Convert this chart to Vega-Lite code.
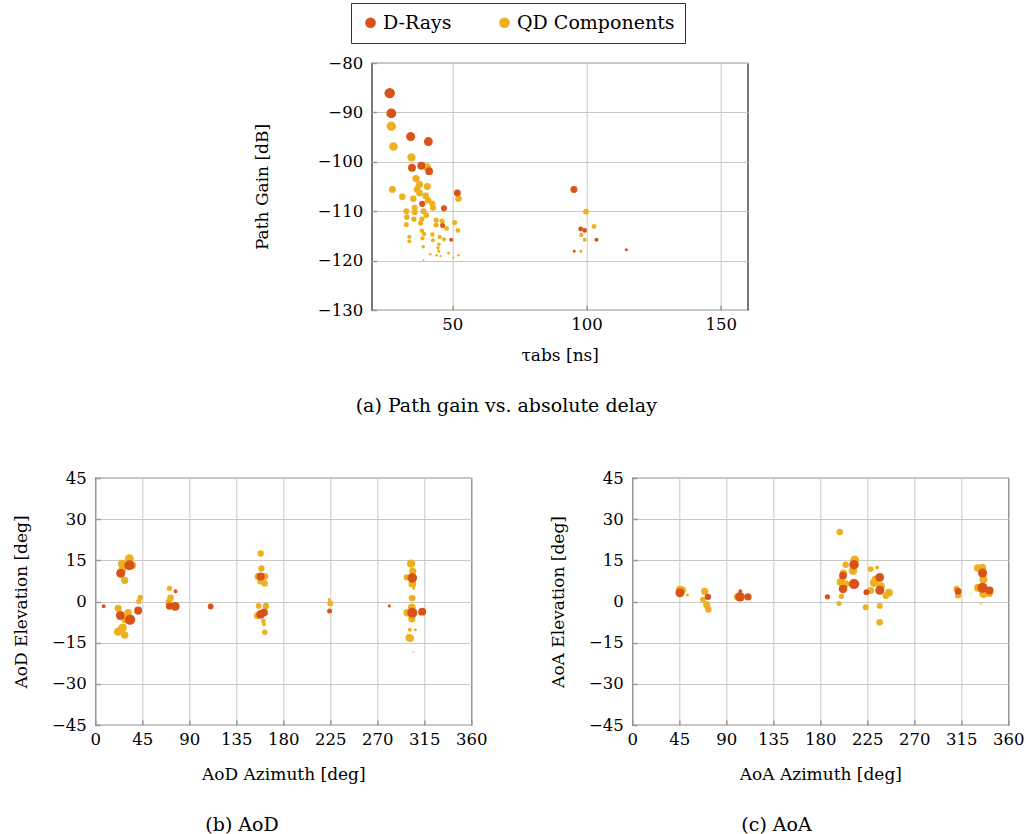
{
  "$schema": "https://vega.github.io/schema/vega-lite/v6.json",
  "background": "white",
  "padding": {"left": 11, "top": 2, "right": 2, "bottom": 1},
  "config": {
    "font": "DejaVu Serif",
    "view": {"stroke": "#222", "strokeWidth": 1.2},
    "axis": {
      "grid": true, "gridColor": "#c8c8c8", "gridWidth": 1,
      "domain": false, "tickColor": "#999", "tickSize": -5, "tickWidth": 1.5,
      "labelOverlap": false, "labelFlush": false,
      "labelFont": "DejaVu Serif", "labelFontSize": 16.5, "labelColor": "#000", "labelPadding": 11,
      "titleFont": "DejaVu Serif", "titleFontSize": 17, "titleFontWeight": "normal", "titleColor": "#000"
    },
    "axisX": {"titlePadding": 19},
    "axisY": {"titlePadding": 21, "labelPadding": 14},
    "title": {"font": "DejaVu Serif", "fontSize": 19, "fontWeight": "normal", "color": "#000",
              "anchor": "start", "frame": "group", "orient": "bottom", "offset": 33},
    "legend": {"labelFont": "DejaVu Serif", "labelFontSize": 19, "labelColor": "#000"}
  },
  "datasets": {
    "gain": [
      {"type": "QD Components", "tau": 27.3, "pg": -92.8}, {"type": "QD Components", "tau": 28.1, "pg": -96.9},
      {"type": "QD Components", "tau": 34.8, "pg": -99.1}, {"type": "QD Components", "tau": 40.6, "pg": -101.1},
      {"type": "QD Components", "tau": 36.5, "pg": -103.4}, {"type": "QD Components", "tau": 37.8, "pg": -104.6},
      {"type": "QD Components", "tau": 40.7, "pg": -105.0}, {"type": "QD Components", "tau": 36.9, "pg": -105.6},
      {"type": "QD Components", "tau": 27.7, "pg": -105.6}, {"type": "QD Components", "tau": 31.4, "pg": -107.1},
      {"type": "QD Components", "tau": 35.5, "pg": -107.5}, {"type": "QD Components", "tau": 37.8, "pg": -106.3},
      {"type": "QD Components", "tau": 40.1, "pg": -106.9}, {"type": "QD Components", "tau": 41.0, "pg": -107.8},
      {"type": "QD Components", "tau": 42.6, "pg": -108.5}, {"type": "QD Components", "tau": 42.8, "pg": -109.3},
      {"type": "QD Components", "tau": 36.0, "pg": -109.3}, {"type": "QD Components", "tau": 39.3, "pg": -110.0},
      {"type": "QD Components", "tau": 32.9, "pg": -110.0}, {"type": "QD Components", "tau": 36.0, "pg": -110.2},
      {"type": "QD Components", "tau": 40.3, "pg": -110.8}, {"type": "QD Components", "tau": 33.1, "pg": -111.2},
      {"type": "QD Components", "tau": 35.7, "pg": -111.6}, {"type": "QD Components", "tau": 38.7, "pg": -111.6},
      {"type": "QD Components", "tau": 44.0, "pg": -111.8}, {"type": "QD Components", "tau": 46.2, "pg": -112.0},
      {"type": "QD Components", "tau": 38.2, "pg": -112.4}, {"type": "QD Components", "tau": 32.9, "pg": -112.7},
      {"type": "QD Components", "tau": 44.0, "pg": -112.8}, {"type": "QD Components", "tau": 50.9, "pg": -112.3},
      {"type": "QD Components", "tau": 47.9, "pg": -113.5}, {"type": "QD Components", "tau": 52.1, "pg": -113.9},
      {"type": "QD Components", "tau": 38.7, "pg": -114.0}, {"type": "QD Components", "tau": 39.5, "pg": -114.6},
      {"type": "QD Components", "tau": 42.6, "pg": -114.7}, {"type": "QD Components", "tau": 45.3, "pg": -115.2},
      {"type": "QD Components", "tau": 34.0, "pg": -115.2}, {"type": "QD Components", "tau": 38.9, "pg": -115.5},
      {"type": "QD Components", "tau": 42.8, "pg": -115.9}, {"type": "QD Components", "tau": 46.9, "pg": -115.7},
      {"type": "QD Components", "tau": 34.0, "pg": -116.1}, {"type": "QD Components", "tau": 45.0, "pg": -116.7},
      {"type": "QD Components", "tau": 39.2, "pg": -117.2}, {"type": "QD Components", "tau": 44.7, "pg": -117.4},
      {"type": "QD Components", "tau": 45.0, "pg": -118.1}, {"type": "QD Components", "tau": 41.8, "pg": -118.7},
      {"type": "QD Components", "tau": 44.2, "pg": -118.9}, {"type": "QD Components", "tau": 45.6, "pg": -119.1},
      {"type": "QD Components", "tau": 48.6, "pg": -118.5}, {"type": "QD Components", "tau": 52.3, "pg": -118.9},
      {"type": "QD Components", "tau": 50.4, "pg": -119.4}, {"type": "QD Components", "tau": 39.3, "pg": -119.9},
      {"type": "QD Components", "tau": 52.3, "pg": -107.5}, {"type": "QD Components", "tau": 99.8, "pg": -110.1},
      {"type": "QD Components", "tau": 102.8, "pg": -113.1}, {"type": "QD Components", "tau": 98.0, "pg": -114.8},
      {"type": "QD Components", "tau": 99.3, "pg": -115.8}, {"type": "QD Components", "tau": 97.9, "pg": -118.1},
      {"type": "D-Rays", "tau": 26.7, "pg": -86.1}, {"type": "D-Rays", "tau": 27.3, "pg": -90.2},
      {"type": "D-Rays", "tau": 34.5, "pg": -94.9}, {"type": "D-Rays", "tau": 41.1, "pg": -95.9},
      {"type": "D-Rays", "tau": 35.0, "pg": -101.2}, {"type": "D-Rays", "tau": 38.5, "pg": -100.8},
      {"type": "D-Rays", "tau": 41.4, "pg": -101.9}, {"type": "D-Rays", "tau": 51.9, "pg": -106.3},
      {"type": "D-Rays", "tau": 38.8, "pg": -108.5}, {"type": "D-Rays", "tau": 46.9, "pg": -109.4},
      {"type": "D-Rays", "tau": 46.4, "pg": -112.9}, {"type": "D-Rays", "tau": 49.6, "pg": -115.8},
      {"type": "D-Rays", "tau": 95.3, "pg": -105.6}, {"type": "D-Rays", "tau": 97.8, "pg": -113.6},
      {"type": "D-Rays", "tau": 99.3, "pg": -113.9}, {"type": "D-Rays", "tau": 103.7, "pg": -115.8},
      {"type": "D-Rays", "tau": 95.4, "pg": -118.1}, {"type": "D-Rays", "tau": 114.8, "pg": -117.8}
    ],
    "aod": [
      {"type": "QD Components", "az": 32.6, "el": 15.6, "pg": -95}, {"type": "QD Components", "az": 25.6, "el": 13.7, "pg": -100},
      {"type": "QD Components", "az": 35.2, "el": 13.2, "pg": -100}, {"type": "QD Components", "az": 26.2, "el": 12.0, "pg": -102},
      {"type": "QD Components", "az": 28.1, "el": 7.7, "pg": -104}, {"type": "QD Components", "az": 41.6, "el": 0.0, "pg": -112},
      {"type": "QD Components", "az": 43.0, "el": 1.5, "pg": -112}, {"type": "QD Components", "az": 21.8, "el": -2.5, "pg": -105},
      {"type": "QD Components", "az": 31.4, "el": -4.1, "pg": -104}, {"type": "QD Components", "az": 28.8, "el": -6.5, "pg": -100},
      {"type": "QD Components", "az": 26.2, "el": -9.5, "pg": -100}, {"type": "QD Components", "az": 21.8, "el": -11.0, "pg": -100},
      {"type": "QD Components", "az": 28.1, "el": -12.2, "pg": -103}, {"type": "QD Components", "az": 41.0, "el": -3.5, "pg": -105},
      {"type": "QD Components", "az": 24.0, "el": -10.5, "pg": -103},
      {"type": "QD Components", "az": 71.0, "el": 4.8, "pg": -112}, {"type": "QD Components", "az": 72.0, "el": 1.3, "pg": -107},
      {"type": "QD Components", "az": 70.3, "el": -0.3, "pg": -107},
      {"type": "QD Components", "az": 158.3, "el": 17.5, "pg": -108}, {"type": "QD Components", "az": 159.0, "el": 12.0, "pg": -108},
      {"type": "QD Components", "az": 155.8, "el": 9.1, "pg": -105}, {"type": "QD Components", "az": 162.2, "el": 9.1, "pg": -105},
      {"type": "QD Components", "az": 158.3, "el": 7.4, "pg": -106}, {"type": "QD Components", "az": 162.2, "el": 6.6, "pg": -108},
      {"type": "QD Components", "az": 156.4, "el": -1.6, "pg": -110}, {"type": "QD Components", "az": 163.4, "el": -1.6, "pg": -108},
      {"type": "QD Components", "az": 155.2, "el": -5.2, "pg": -105}, {"type": "QD Components", "az": 160.9, "el": -7.1, "pg": -114},
      {"type": "QD Components", "az": 161.5, "el": -8.3, "pg": -116}, {"type": "QD Components", "az": 162.2, "el": -11.2, "pg": -112},
      {"type": "QD Components", "az": 223.9, "el": 0.7, "pg": -118}, {"type": "QD Components", "az": 224.9, "el": -0.7, "pg": -110},
      {"type": "QD Components", "az": 302.3, "el": 13.8, "pg": -100}, {"type": "QD Components", "az": 303.9, "el": 11.0, "pg": -104},
      {"type": "QD Components", "az": 298.2, "el": 8.8, "pg": -108}, {"type": "QD Components", "az": 303.5, "el": 6.5, "pg": -102},
      {"type": "QD Components", "az": 304.9, "el": 4.8, "pg": -118}, {"type": "QD Components", "az": 303.3, "el": 1.2, "pg": -107},
      {"type": "QD Components", "az": 303.0, "el": -2.1, "pg": -103}, {"type": "QD Components", "az": 298.5, "el": -4.1, "pg": -104},
      {"type": "QD Components", "az": 303.0, "el": -6.3, "pg": -104}, {"type": "QD Components", "az": 301.1, "el": -10.3, "pg": -116},
      {"type": "QD Components", "az": 306.4, "el": -10.3, "pg": -118}, {"type": "QD Components", "az": 300.4, "el": -13.2, "pg": -104},
      {"type": "QD Components", "az": 301.6, "el": -13.4, "pg": -104}, {"type": "QD Components", "az": 304.5, "el": -18.4, "pg": -120},
      {"type": "D-Rays", "az": 32.6, "el": 13.2, "pg": -88}, {"type": "D-Rays", "az": 24.3, "el": 10.3, "pg": -95},
      {"type": "D-Rays", "az": 8.0, "el": -1.7, "pg": -116}, {"type": "D-Rays", "az": 41.0, "el": -3.3, "pg": -101},
      {"type": "D-Rays", "az": 24.0, "el": -5.1, "pg": -95}, {"type": "D-Rays", "az": 33.3, "el": -6.6, "pg": -87},
      {"type": "D-Rays", "az": 76.8, "el": 3.7, "pg": -116}, {"type": "D-Rays", "az": 71.0, "el": -1.7, "pg": -105},
      {"type": "D-Rays", "az": 76.5, "el": -1.8, "pg": -96}, {"type": "D-Rays", "az": 110.4, "el": -1.8, "pg": -110},
      {"type": "D-Rays", "az": 158.3, "el": 9.1, "pg": -100}, {"type": "D-Rays", "az": 161.5, "el": -4.0, "pg": -102},
      {"type": "D-Rays", "az": 158.3, "el": -4.7, "pg": -97}, {"type": "D-Rays", "az": 224.3, "el": -3.5, "pg": -113},
      {"type": "D-Rays", "az": 281.5, "el": -1.6, "pg": -118}, {"type": "D-Rays", "az": 303.5, "el": 8.6, "pg": -92},
      {"type": "D-Rays", "az": 303.5, "el": -4.1, "pg": -88}, {"type": "D-Rays", "az": 312.9, "el": -3.7, "pg": -101}
    ],
    "aoa": [
      {"type": "QD Components", "az": 45.6, "el": 4.3, "pg": -100}, {"type": "QD Components", "az": 47.9, "el": 4.1, "pg": -104},
      {"type": "QD Components", "az": 52.7, "el": 2.4, "pg": -118}, {"type": "QD Components", "az": 69.3, "el": 3.7, "pg": -104},
      {"type": "QD Components", "az": 67.6, "el": 0.7, "pg": -110}, {"type": "QD Components", "az": 71.2, "el": -1.1, "pg": -105},
      {"type": "QD Components", "az": 71.8, "el": -1.9, "pg": -110}, {"type": "QD Components", "az": 72.8, "el": -2.9, "pg": -108},
      {"type": "QD Components", "az": 100.6, "el": 1.7, "pg": -104},
      {"type": "QD Components", "az": 198.6, "el": 25.3, "pg": -107}, {"type": "QD Components", "az": 212.9, "el": 15.2, "pg": -97},
      {"type": "QD Components", "az": 211.3, "el": 11.2, "pg": -98}, {"type": "QD Components", "az": 204.3, "el": 13.4, "pg": -108},
      {"type": "QD Components", "az": 202.1, "el": 10.3, "pg": -104}, {"type": "QD Components", "az": 199.5, "el": 7.1, "pg": -100},
      {"type": "QD Components", "az": 204.3, "el": 6.4, "pg": -104}, {"type": "QD Components", "az": 200.2, "el": 1.9, "pg": -112},
      {"type": "QD Components", "az": 197.9, "el": -0.7, "pg": -113}, {"type": "QD Components", "az": 228.3, "el": 4.0, "pg": -106},
      {"type": "QD Components", "az": 228.3, "el": 11.8, "pg": -110}, {"type": "QD Components", "az": 234.3, "el": 12.4, "pg": -116},
      {"type": "QD Components", "az": 233.0, "el": 8.0, "pg": -100}, {"type": "QD Components", "az": 231.4, "el": 6.8, "pg": -98},
      {"type": "QD Components", "az": 237.8, "el": 5.5, "pg": -100}, {"type": "QD Components", "az": 245.8, "el": 3.2, "pg": -102},
      {"type": "QD Components", "az": 242.9, "el": 2.2, "pg": -106}, {"type": "QD Components", "az": 223.5, "el": -2.1, "pg": -110},
      {"type": "QD Components", "az": 236.9, "el": -1.6, "pg": -110}, {"type": "QD Components", "az": 236.9, "el": -7.6, "pg": -107},
      {"type": "QD Components", "az": 310.3, "el": 4.7, "pg": -110}, {"type": "QD Components", "az": 311.9, "el": 2.3, "pg": -108},
      {"type": "QD Components", "az": 330.5, "el": 12.2, "pg": -104}, {"type": "QD Components", "az": 335.3, "el": 12.4, "pg": -104},
      {"type": "QD Components", "az": 336.2, "el": 8.0, "pg": -100}, {"type": "QD Components", "az": 331.0, "el": 5.0, "pg": -100},
      {"type": "QD Components", "az": 336.2, "el": 2.8, "pg": -98}, {"type": "QD Components", "az": 342.0, "el": 2.8, "pg": -108},
      {"type": "QD Components", "az": 333.6, "el": -0.8, "pg": -120},
      {"type": "D-Rays", "az": 45.6, "el": 3.2, "pg": -95}, {"type": "D-Rays", "az": 72.4, "el": 1.7, "pg": -108},
      {"type": "D-Rays", "az": 103.4, "el": 3.7, "pg": -116}, {"type": "D-Rays", "az": 103.1, "el": 1.7, "pg": -92},
      {"type": "D-Rays", "az": 110.7, "el": 1.7, "pg": -104}, {"type": "D-Rays", "az": 212.3, "el": 13.4, "pg": -92},
      {"type": "D-Rays", "az": 201.7, "el": 9.4, "pg": -102}, {"type": "D-Rays", "az": 212.3, "el": 6.4, "pg": -87},
      {"type": "D-Rays", "az": 201.7, "el": 4.6, "pg": -98}, {"type": "D-Rays", "az": 186.8, "el": 1.7, "pg": -112},
      {"type": "D-Rays", "az": 224.1, "el": 3.4, "pg": -110}, {"type": "D-Rays", "az": 236.9, "el": 8.8, "pg": -97},
      {"type": "D-Rays", "az": 236.9, "el": 4.1, "pg": -95}, {"type": "D-Rays", "az": 311.9, "el": 3.7, "pg": -106},
      {"type": "D-Rays", "az": 335.3, "el": 10.4, "pg": -95}, {"type": "D-Rays", "az": 335.3, "el": 5.0, "pg": -88},
      {"type": "D-Rays", "az": 342.0, "el": 4.0, "pg": -100}
    ]
  },
  "center": true,
  "spacing": 52,
  "vconcat": [
    {
      "width": 376, "height": 247,
      "title": {"text": "(a) Path gain vs. absolute delay", "dx": -16},
      "data": {"name": "gain"},
      "mark": {"type": "circle", "opacity": 1},
      "encoding": {
        "x": {"field": "tau", "type": "quantitative", "scale": {"domain": [20, 160], "nice": false, "zero": false},
              "axis": {"values": [50, 100, 150], "title": "τabs [ns]", "titlePadding": 15}},
        "y": {"field": "pg", "type": "quantitative", "scale": {"domain": [-130, -80], "nice": false, "zero": false},
              "axis": {"values": [-130, -120, -110, -100, -90, -80], "title": "Path Gain [dB]", "titlePadding": 46}},
        "color": {"field": "type", "type": "nominal",
                  "scale": {"domain": ["D-Rays", "QD Components"], "range": ["#D95319", "#EDB120"]},
                  "legend": {"orient": "none", "legendX": 256, "legendY": -60, "direction": "horizontal", "title": null,
                             "strokeColor": "#333", "padding": 10, "symbolType": "circle", "symbolSize": 113,
                             "symbolStrokeWidth": 0, "symbolOpacity": 1, "columnPadding": 43, "labelOffset": 3}},
        "size": {"field": "pg", "type": "quantitative", "scale": {"domain": [-120, -86], "range": [3, 110], "clamp": true, "zero": false}, "legend": null}
      }
    },
    {
      "spacing": 60,
      "hconcat": [
        {
          "width": 376, "height": 247,
          "title": {"text": "(b) AoD", "dx": 110},
          "data": {"name": "aod"},
          "mark": {"type": "circle", "opacity": 1},
          "encoding": {
            "x": {"field": "az", "type": "quantitative", "scale": {"domain": [0, 360], "nice": false},
                  "axis": {"values": [0, 45, 90, 135, 180, 225, 270, 315, 360], "title": "AoD Azimuth [deg]"}},
            "y": {"field": "el", "type": "quantitative", "scale": {"domain": [-45, 45], "nice": false},
                  "axis": {"values": [-45, -30, -15, 0, 15, 30, 45], "title": "AoD Elevation [deg]"}},
            "color": {"field": "type", "type": "nominal",
                      "scale": {"domain": ["D-Rays", "QD Components"], "range": ["#D95319", "#EDB120"]}},
            "size": {"field": "pg", "type": "quantitative", "scale": {"domain": [-120, -86], "range": [3, 110], "clamp": true, "zero": false}, "legend": null}
          }
        },
        {
          "width": 376, "height": 247,
          "title": {"text": "(c) AoA", "dx": 109},
          "data": {"name": "aoa"},
          "mark": {"type": "circle", "opacity": 1},
          "encoding": {
            "x": {"field": "az", "type": "quantitative", "scale": {"domain": [0, 360], "nice": false},
                  "axis": {"values": [0, 45, 90, 135, 180, 225, 270, 315, 360], "title": "AoA Azimuth [deg]"}},
            "y": {"field": "el", "type": "quantitative", "scale": {"domain": [-45, 45], "nice": false},
                  "axis": {"values": [-45, -30, -15, 0, 15, 30, 45], "title": "AoA Elevation [deg]"}},
            "color": {"field": "type", "type": "nominal",
                      "scale": {"domain": ["D-Rays", "QD Components"], "range": ["#D95319", "#EDB120"]}},
            "size": {"field": "pg", "type": "quantitative", "scale": {"domain": [-120, -86], "range": [3, 110], "clamp": true, "zero": false}, "legend": null}
          }
        }
      ]
    }
  ]
}
